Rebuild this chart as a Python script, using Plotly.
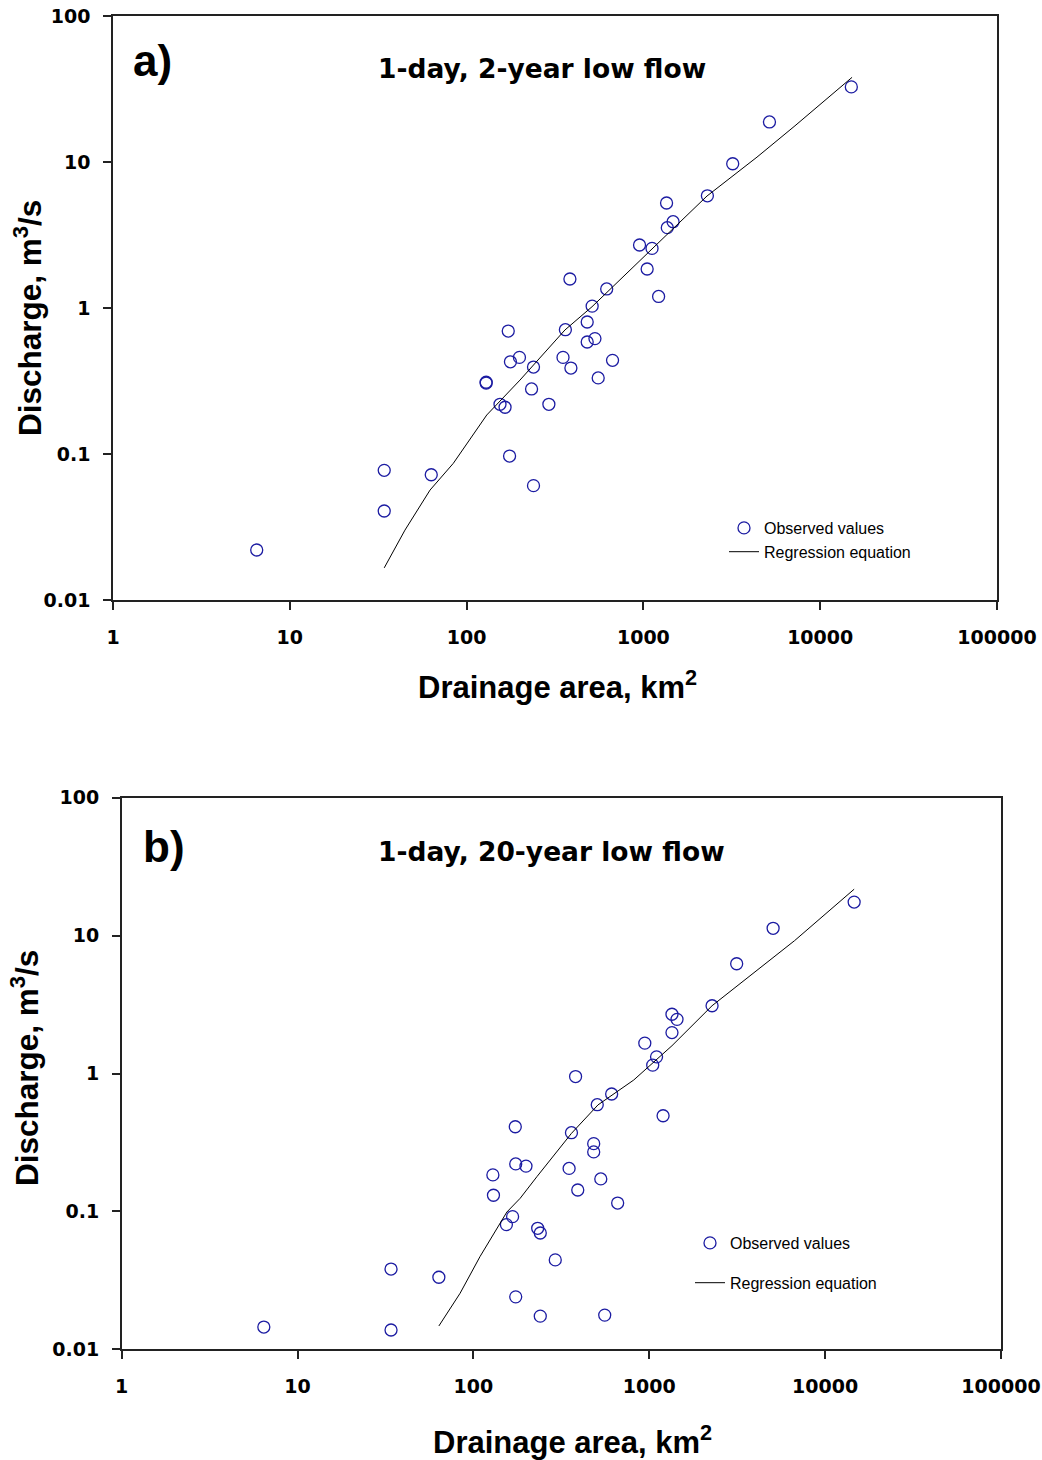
import plotly.graph_objects as go

# ---------------- data ----------------
area_a = [6.5, 34.2, 34.2, 63.1, 129, 129, 154.5, 165, 172, 175, 177, 199, 233, 239, 239,
          292, 351, 362, 384, 389, 481, 481, 513, 532, 555, 620, 669, 951, 1050, 1119,
          1219, 1352, 1365, 1472, 2301, 3200, 5164, 15000]
q_a = [0.022, 0.0773, 0.0407, 0.0721, 0.310, 0.306, 0.219, 0.209, 0.695, 0.0968, 0.428,
       0.459, 0.279, 0.394, 0.0607, 0.219, 0.459, 0.71, 1.58, 0.388, 0.802, 0.585, 1.03,
       0.617, 0.332, 1.35, 0.438, 2.70, 1.85, 2.56, 1.20, 5.24, 3.55, 3.90, 5.87, 9.73,
       18.8, 32.7]
reg_area_a = [34.2, 44.8, 62.1, 84.1, 130, 200.5, 360, 512, 2290, 4390, 7200, 15140]
reg_q_a = [0.0166, 0.0301, 0.0566, 0.0863, 0.185, 0.321, 0.707, 1.02, 5.85, 10.8, 17.7, 38.0]

area_b = [6.43, 34.0, 34.0, 63.6, 129, 130, 154, 167, 173, 174, 174, 199, 232, 240, 240,
          292, 350, 361, 381, 392, 483, 483, 506, 530, 558, 611, 661, 943, 1046, 1100,
          1198, 1346, 1346, 1438, 2275, 3140, 5060, 14620]
q_b = [0.0145, 0.0382, 0.0138, 0.0333, 0.184, 0.131, 0.0802, 0.0916, 0.411, 0.221, 0.024,
       0.213, 0.0754, 0.0697, 0.0174, 0.0445, 0.205, 0.372, 0.95, 0.143, 0.310, 0.270,
       0.594, 0.172, 0.0177, 0.710, 0.115, 1.66, 1.15, 1.32, 0.494, 2.69, 1.98, 2.47,
       3.10, 6.25, 11.3, 17.5]
reg_area_b = [63.6, 84, 109, 129, 155, 184.5, 230, 361, 511, 816, 1346, 2275, 4605, 6700, 14620]
reg_q_b = [0.01476, 0.0255, 0.047, 0.0671, 0.099, 0.1245, 0.179, 0.368, 0.592, 0.897, 1.59,
           3.10, 6.30, 9.19, 21.7]

x_tickvals = [1, 10, 100, 1000, 10000, 100000]
x_ticktext = ["1", "10", "100", "1000", "10000", "100000"]
y_tickvals = [0.01, 0.1, 1, 10, 100]
y_ticktext = ["0.01", "0.1", "1", "10", "100"]

series_names = ["Observed values", "Regression equation"]
panel_labels = ["a)", "b)"]
panel_titles = ["1-day, 2-year low flow", "1-day, 20-year low flow"]
x_title = "Drainage area, km<sup>2</sup>"
y_title = "Discharge, m<sup>3</sup>/s"

# ---------------- layout helpers ----------------
W, H = 1042, 1460


def px(x):
    return x / W


def py(y):
    return 1 - y / H


MARKER_COLOR = "#1c1ca2"
AXIS_COLOR = "#222222"
BOLD_FONT = "DejaVu Sans"
ARIAL = "Liberation Sans, Arial, sans-serif"

fig = go.Figure()

fig.add_trace(go.Scatter(
    x=area_a, y=q_a, mode="markers", name=series_names[0],
    marker=dict(symbol="circle-open", size=12, color=MARKER_COLOR, line=dict(width=1.3)),
    xaxis="x", yaxis="y", legend="legend", legendgroup="obs_a"))
fig.add_trace(go.Scatter(
    x=reg_area_a, y=reg_q_a, mode="lines", name=series_names[1],
    line=dict(color="black", width=1),
    xaxis="x", yaxis="y", legend="legend", legendgroup="reg_a"))
fig.add_trace(go.Scatter(
    x=area_b, y=q_b, mode="markers", name=series_names[0],
    marker=dict(symbol="circle-open", size=12, color=MARKER_COLOR, line=dict(width=1.3)),
    xaxis="x2", yaxis="y2", legend="legend2", legendgroup="obs_b"))
fig.add_trace(go.Scatter(
    x=reg_area_b, y=reg_q_b, mode="lines", name=series_names[1],
    line=dict(color="black", width=1),
    xaxis="x2", yaxis="y2", legend="legend2", legendgroup="reg_b"))

axis_common = dict(
    type="log", showgrid=False, zeroline=False, showline=True, mirror=True,
    linecolor=AXIS_COLOR, linewidth=1.5, ticks="outside", ticklen=8, tickwidth=1.5,
    tickcolor=AXIS_COLOR, automargin=False,
    tickfont=dict(family=BOLD_FONT, size=19, color="black"),
)

xt = ["<b>%s</b>" % t for t in x_ticktext]
yt = ["<b>%s</b>" % t for t in y_ticktext]

fig.update_layout(
    width=W, height=H,
    margin=dict(l=0, r=0, t=0, b=0, autoexpand=False),
    paper_bgcolor="white", plot_bgcolor="white",
    xaxis=dict(axis_common, domain=[px(113), px(997)], range=[0, 5],
               tickvals=x_tickvals, ticktext=xt, anchor="y", ticklabelstandoff=11),
    yaxis=dict(axis_common, domain=[py(600), py(16)], range=[-2, 2],
               tickvals=y_tickvals, ticktext=yt, anchor="x", ticklabelstandoff=9),
    xaxis2=dict(axis_common, domain=[px(121.7), px(1001)], range=[0, 5],
                tickvals=x_tickvals, ticktext=xt, anchor="y2", ticklabelstandoff=11),
    yaxis2=dict(axis_common, domain=[py(1349.3), py(797.7)], range=[-2, 2],
                tickvals=y_tickvals, ticktext=yt, anchor="x2", ticklabelstandoff=9),
    legend=dict(x=px(724), y=py(511), xanchor="left", yanchor="top",
                bgcolor="rgba(0,0,0,0)", borderwidth=0,
                font=dict(family=ARIAL, size=16, color="black"),
                tracegroupgap=0, traceorder="grouped"),
    legend2=dict(x=px(690), y=py(1226), xanchor="left", yanchor="top",
                 bgcolor="rgba(0,0,0,0)", borderwidth=0,
                 font=dict(family=ARIAL, size=16, color="black"),
                 tracegroupgap=16, traceorder="grouped"),
    showlegend=True,
)

annotations = []
# panel a
annotations.append(dict(text="<b>%s</b>" % panel_labels[0], x=px(152), y=py(61),
                        font=dict(family=ARIAL, size=44, color="black")))
annotations.append(dict(text="<b>%s</b>" % panel_titles[0], x=px(542), y=py(68),
                        font=dict(family=BOLD_FONT, size=26.5, color="black")))
annotations.append(dict(text="<b>%s</b>" % x_title, x=px(557), y=py(685),
                        font=dict(family=ARIAL, size=31, color="black")))
annotations.append(dict(text="<b>%s</b>" % y_title, x=px(28), y=py(318), textangle=-90,
                        font=dict(family=ARIAL, size=31.5, color="black")))
# panel b
annotations.append(dict(text="<b>%s</b>" % panel_labels[1], x=px(164), y=py(846),
                        font=dict(family=ARIAL, size=44, color="black")))
annotations.append(dict(text="<b>%s</b>" % panel_titles[1], x=px(551), y=py(851),
                        font=dict(family=BOLD_FONT, size=26.5, color="black")))
annotations.append(dict(text="<b>%s</b>" % x_title, x=px(572), y=py(1440),
                        font=dict(family=ARIAL, size=31, color="black")))
annotations.append(dict(text="<b>%s</b>" % y_title, x=px(25), y=py(1068), textangle=-90,
                        font=dict(family=ARIAL, size=31.5, color="black")))

for a in annotations:
    a.update(xref="paper", yref="paper", xanchor="center", yanchor="middle",
             showarrow=False)
fig.update_layout(annotations=annotations)

fig.write_html("out.html")
